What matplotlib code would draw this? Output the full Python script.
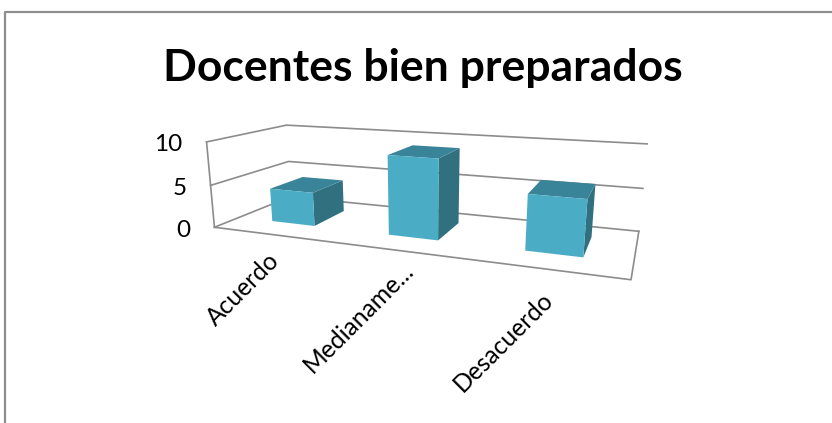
import matplotlib
matplotlib.use('Agg')
import matplotlib.pyplot as plt
from matplotlib.patches import Polygon
import numpy as np

categories = ['Acuerdo', 'Medianame...', 'Desacuerdo']
values = [4, 9, 6]
y_ticks = [0, 5, 10]
title = 'Docentes bien preparados'

FRONT = '#4BACC6'
TOP = '#3A8499'
SIDE = '#31707F'
GRID = '#8C8C8C'

# where the chart box corners sit on the page: (cat, depth, value) -> pixel
box_points = [
    ((0, 0, 0), (215, 227)),
    ((3, 0, 0), (631, 280)),
    ((0, 1, 0), (290, 197)),
    ((3, 1, 0), (639, 231)),
    ((0, 0, 10), (206, 142)),
    ((0, 1, 10), (287, 125)),
    ((3, 1, 10), (647, 144)),
]

# label placement relative to the front edge, in pixels
label_nudge = [(5, 23), (14, 16), (4, 27)]


def fit_camera(points):
    rows = []
    for (x, d, v), (px, py) in points:
        rows.append([x, d, v, 1, 0, 0, 0, 0, -px * x, -px * d, -px * v, -px])
        rows.append([0, 0, 0, 0, x, d, v, 1, -py * x, -py * d, -py * v, -py])
    _, _, vt = np.linalg.svd(np.array(rows, dtype=float))
    return vt[-1].reshape(3, 4)


cam = fit_camera(box_points)


def project(x, d, v):
    p = cam @ np.array([x, d, v, 1.0])
    return p[0] / p[2], p[1] / p[2]


plt.rcParams['font.family'] = ['Lato', 'DejaVu Sans']

fig = plt.figure(figsize=(8.32, 4.23), dpi=100)
ax = fig.add_axes([0, 0, 1, 1])
ax.set_xlim(0, 832)
ax.set_ylim(423, 0)
ax.axis('off')

# outer frame, cut off on the right and at the bottom
ax.plot([5, 5, 832], [423, 12, 12], color='#8E8E8E', lw=1.6, zorder=1)

ax.text(423, 68, title, ha='center', va='center', fontsize=32, fontweight='bold', color='black')

# walls and gridlines
for t in y_ticks:
    pts = [project(0, 0, t), project(0, 1, t), project(3, 1, t)]
    ax.plot(*zip(*pts), color=GRID, lw=1.2, zorder=2)
    if t == 0:
        pts = [project(0, 0, 0), project(3, 0, 0), project(3, 1, 0)]
        ax.plot(*zip(*pts), color=GRID, lw=1.2, zorder=2)
    lx, ly = project(0, 0, t)
    ax.text(lx - 24, ly + 3, str(t), ha='right', va='center', fontsize=17.5, color='black')
ax.plot(*zip(project(0, 0, 0), project(0, 0, 10)), color=GRID, lw=1.2, zorder=2)

# bars
bar_w = 0.38
d0, d1 = 0.29, 0.74
for i, val in enumerate(values):
    x0 = i + 0.5 - bar_w / 2
    x1 = i + 0.5 + bar_w / 2
    z = 3 + i * 0.1
    side = [project(x1, d0, 0), project(x1, d1, 0), project(x1, d1, val), project(x1, d0, val)]
    top = [project(x0, d0, val), project(x1, d0, val), project(x1, d1, val), project(x0, d1, val)]
    front = [project(x0, d0, 0), project(x1, d0, 0), project(x1, d0, val), project(x0, d0, val)]
    ax.add_patch(Polygon(side, fc=SIDE, ec='none', zorder=z))
    ax.add_patch(Polygon(top, fc=TOP, ec='none', zorder=z))
    ax.add_patch(Polygon(front, fc=FRONT, ec='none', zorder=z))
    # category label, rotated, ending under the bar
    lx, ly = project(i + 0.5, 0, 0)
    ax.text(lx + label_nudge[i][0], ly + label_nudge[i][1], categories[i], rotation=45,
            rotation_mode='anchor', ha='right', va='center', fontsize=17.7, color='black')

fig.savefig('out.png', dpi=100)
